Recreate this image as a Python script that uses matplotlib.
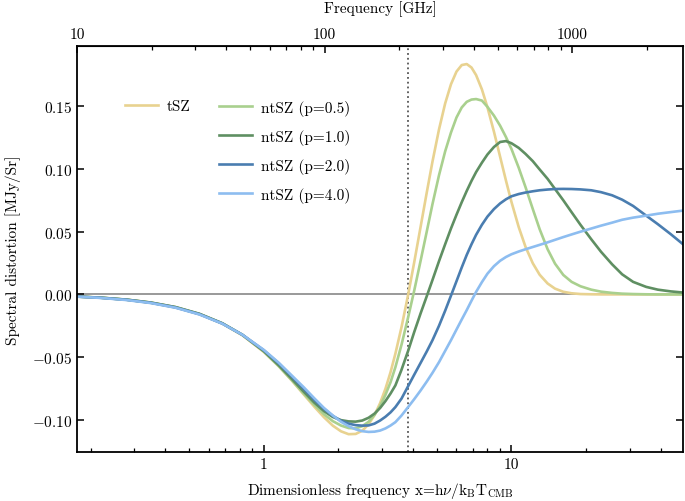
import matplotlib
matplotlib.use("Agg")
import matplotlib.pyplot as plt
from matplotlib.ticker import NullFormatter

# dimensionless frequency x = h nu / k_B T_CMB
x = [0.176, 0.22, 0.28, 0.35, 0.44, 0.55, 0.68, 0.82,
     1.0, 1.15, 1.3, 1.45, 1.6, 1.75, 1.9, 2.05, 2.2, 2.35, 2.5, 2.65, 2.8, 2.95,
     3.1, 3.25, 3.4, 3.6, 3.83, 4.05, 4.3, 4.55, 4.8, 5.1, 5.4, 5.7, 6.0, 6.3, 6.6,
     6.9, 7.2, 7.6, 8.0, 8.5, 9.0, 9.5, 10, 10.7, 11.4, 12.2, 13, 14, 15, 16.2, 17.5,
     19, 21, 23, 25.5, 28, 31, 35, 39, 44, 49.3]

# spectral distortion [MJy/Sr]
tsz = [-0.0017, -0.0026, -0.0042, -0.0065, -0.0102, -0.0156, -0.0232, -0.0326,
       -0.0458, -0.0573, -0.0688, -0.0797, -0.0895, -0.0979, -0.1046, -0.1091, -0.1114,
       -0.1112, -0.1086, -0.1035, -0.0962, -0.0866, -0.0752, -0.0620, -0.0472, -0.0260,
       0.0000, 0.0256, 0.0541, 0.0811, 0.1059, 0.1315, 0.1522, 0.1675, 0.1776, 0.1828,
       0.1836, 0.1808, 0.1748, 0.1634, 0.1492, 0.1297, 0.1098, 0.0909, 0.0738, 0.0537,
       0.0379, 0.0248, 0.0157, 0.0087, 0.0046, 0.0021, 0.0009, 0.0003, 0.0001, 0.0,
       0.0, 0.0, 0.0, 0.0, 0.0, 0.0, 0.0]
ntsz_p05 = [-0.0017, -0.0026, -0.0042, -0.0065, -0.0101, -0.0155, -0.0230, -0.0323,
            -0.0455, -0.0572, -0.0685, -0.0790, -0.0880, -0.0955, -0.1010, -0.1045, -0.1065,
            -0.1068, -0.1050, -0.1015, -0.0960, -0.0890, -0.0800, -0.0700, -0.0580, -0.0400,
            -0.0180, 0.0030, 0.0270, 0.0500, 0.0720, 0.0950, 0.1140, 0.1290, 0.1410, 0.1490,
            0.1535, 0.1553, 0.1557, 0.1545, 0.1495, 0.1425, 0.1345, 0.1255, 0.1160, 0.1010,
            0.0855, 0.0680, 0.0520, 0.0360, 0.0245, 0.0155, 0.0100, 0.0065, 0.0038, 0.0022,
            0.0012, 0.0006, 0.0003, 0.0001, 0.0, 0.0, 0.0]
ntsz_p1 = [-0.0017, -0.0026, -0.0042, -0.0065, -0.0101, -0.0155, -0.0230, -0.0322,
           -0.0452, -0.0565, -0.0675, -0.0775, -0.0862, -0.0930, -0.0977, -0.1002, -0.1012,
           -0.1014, -0.1005, -0.0983, -0.0950, -0.0905, -0.0850, -0.0790, -0.0725, -0.0600,
           -0.0448, -0.0300, -0.0150, -0.0015, 0.0115, 0.0265, 0.0400, 0.0525, 0.0635,
           0.0735, 0.0825, 0.0905, 0.0975, 0.1050, 0.1115, 0.1175, 0.1215, 0.1222, 0.1205,
           0.1168, 0.1120, 0.1062, 0.0996, 0.0921, 0.0840, 0.0750, 0.0655, 0.0555, 0.0440,
           0.0340, 0.0240, 0.0160, 0.0100, 0.0060, 0.0038, 0.0024, 0.0015]
ntsz_p2 = [-0.0017, -0.0027, -0.0043, -0.0067, -0.0104, -0.0158, -0.0232, -0.0322,
           -0.0445, -0.0550, -0.0655, -0.0752, -0.0840, -0.0912, -0.0968, -0.1007, -0.1030,
           -0.1042, -0.1046, -0.1044, -0.1030, -0.1005, -0.0975, -0.0940, -0.0898, -0.0830,
           -0.0730, -0.0640, -0.0545, -0.0455, -0.0365, -0.0250, -0.0130, -0.0010, 0.0105,
           0.0215, 0.0315, 0.0400, 0.0475, 0.0555, 0.0620, 0.0680, 0.0725, 0.0758, 0.0782,
           0.0800, 0.0812, 0.0822, 0.0830, 0.0836, 0.0840, 0.0841, 0.0840, 0.0837, 0.0830,
           0.0815, 0.0790, 0.0755, 0.0705, 0.0628, 0.0560, 0.0480, 0.0400]
ntsz_p4 = [-0.0018, -0.0028, -0.0045, -0.0069, -0.0106, -0.0160, -0.0233, -0.0322,
           -0.0442, -0.0545, -0.0648, -0.0740, -0.0828, -0.0905, -0.0965, -0.1015, -0.1050,
           -0.1075, -0.1090, -0.1096, -0.1094, -0.1085, -0.1068, -0.1045, -0.1018, -0.0965,
           -0.0897, -0.0835, -0.0765, -0.0695, -0.0625, -0.0540, -0.0450, -0.0365, -0.0280,
           -0.0200, -0.0125, -0.0050, 0.0020, 0.0098, 0.0165, 0.0225, 0.0268, 0.0298, 0.0320,
           0.0342, 0.0360, 0.0378, 0.0395, 0.0415, 0.0435, 0.0457, 0.0478, 0.0500, 0.0525,
           0.0548, 0.0572, 0.0595, 0.0612, 0.0628, 0.0643, 0.0656, 0.0668]

labels = ["tSZ", "ntSZ (p=0.5)", "ntSZ (p=1.0)", "ntSZ (p=2.0)", "ntSZ (p=4.0)"]
colors = ["#e8d290", "#a9d08e", "#5f8f62", "#4a7db0", "#8dbdf0"]

ghz_per_x = 56.78   # h nu / k T_CMB -> GHz
tsz_null = 3.83     # tSZ crossover frequency
top_ticks = [10, 100, 1000]
bottom_ticks = [1, 10]

plt.rcParams["font.family"] = "serif"
plt.rcParams["font.serif"] = ["cmr10"]
plt.rcParams["mathtext.fontset"] = "cm"
plt.rcParams["axes.formatter.use_mathtext"] = True
plt.rcParams["font.size"] = 11

fig = plt.figure(figsize=(6.85, 5.02), dpi=100)
ax = fig.add_axes([0.1124, 0.0976, 0.8847, 0.8088])

series = [tsz, ntsz_p05, ntsz_p1, ntsz_p2, ntsz_p4]
handles = []
for y, lab, c in zip(series, labels, colors):
    h, = ax.plot(x, y, color=c, lw=1.9, label=lab)
    handles.append(h)

ax.axhline(0, color="#888888", lw=1.2, zorder=1)
ax.axvline(tsz_null, color="#555555", ls=":", lw=1.3, zorder=1)

ax.set_xscale("log")
ax.set_xlim(10 / ghz_per_x, 49.3)
ax.set_ylim(-0.1256, 0.198)
ax.set_xticks(bottom_ticks, labels=[str(t) for t in bottom_ticks])
ax.xaxis.set_minor_formatter(NullFormatter())
ax.set_yticks([-0.10, -0.05, 0.0, 0.05, 0.10, 0.15])

ax.tick_params(which="both", direction="in", top=False, right=True)
ax.tick_params(which="major", length=5, width=1.1)
ax.tick_params(which="minor", length=3, width=0.9)
for s in ax.spines.values():
    s.set_linewidth(1.3)

secax = ax.secondary_xaxis("top", functions=(lambda v: v * ghz_per_x, lambda f: f / ghz_per_x))
secax.set_xticks(top_ticks, labels=[str(t) for t in top_ticks])
secax.xaxis.set_minor_formatter(NullFormatter())
secax.tick_params(which="both", direction="in")
secax.tick_params(which="major", length=5, width=1.1)
secax.tick_params(which="minor", length=3, width=0.9)
secax.set_xlabel("Frequency [GHz]", labelpad=11)

ax.set_xlabel(r"Dimensionless frequency x=h$\nu$/k$_{\rm B}$T$_{\rm CMB}$", labelpad=7)
ax.set_ylabel("Spectral distortion [MJy/Sr]", labelpad=8)

leg1 = ax.legend(handles[:1], labels[:1], loc="upper left", bbox_to_anchor=(0.079, 0.868),
                 frameon=False, borderpad=0, borderaxespad=0, handlelength=2.15,
                 handletextpad=0.6)
ax.add_artist(leg1)
ax.legend(handles[1:], labels[1:], loc="upper left", bbox_to_anchor=(0.234, 0.868),
          frameon=False, borderpad=0, borderaxespad=0, handlelength=2.15,
          handletextpad=0.6, labelspacing=0.85)

fig.savefig("out.png", dpi=100)
